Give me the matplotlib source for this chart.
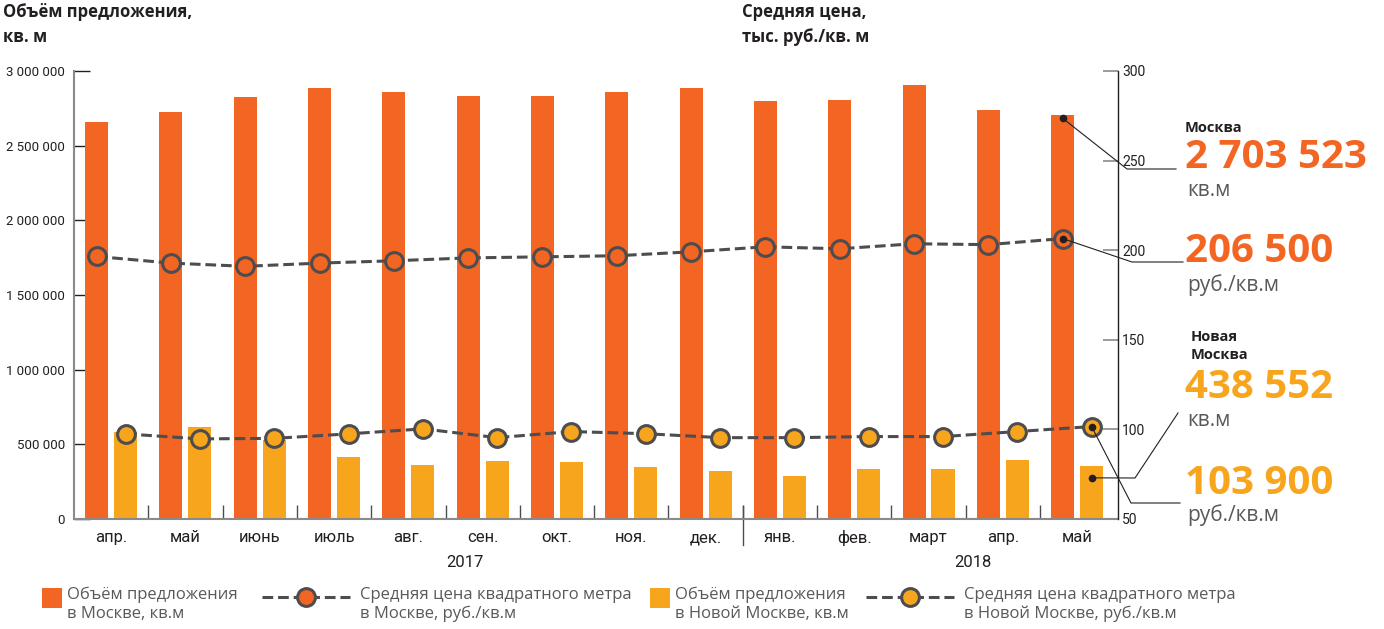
import matplotlib
matplotlib.use('Agg')
import matplotlib.pyplot as plt
from matplotlib.lines import Line2D
from matplotlib.patches import Rectangle
import numpy as np

# данные
months = ['апр.', 'май', 'июнь', 'июль', 'авг.', 'сен.', 'окт.', 'ноя.', 'дек.',
          'янв.', 'фев.', 'март', 'апр.', 'май']
years = ['2017', '2018']
moscow_volume = [2659000, 2726000, 2826000, 2886000, 2860000, 2833000, 2833000,
                 2860000, 2886000, 2800000, 2806000, 2906000, 2739000, 2703523]
new_moscow_volume = [581000, 617000, 528000, 416000, 361000, 388000, 381000,
                     347000, 321000, 287000, 334000, 334000, 394000, 356000]
moscow_price = [196.5, 192.8, 191.0, 192.8, 194.1, 195.7, 196.3,
                196.9, 199.1, 201.9, 200.8, 203.6, 203.1, 206.5]
new_moscow_price = [97.5, 94.7, 95.0, 97.5, 100.3, 95.4, 98.8,
                    97.6, 95.4, 95.4, 96.0, 96.0, 98.8, 101.6]
left_ticks = [0, 500000, 1000000, 1500000, 2000000, 2500000, 3000000]
right_ticks = [50, 100, 150, 200, 250, 300]

RED = '#f26522'
YEL = '#f7a51d'
DARK = '#4d4d4f'
TXT = '#231f20'
GRAY = '#58595b'
AXG = '#8a8a8a'
NARROW = ['Roboto', 'DejaVu Sans']

plt.rcParams['font.family'] = ['Open Sans', 'DejaVu Sans']

W, H = 1384, 629
fig = plt.figure(figsize=(W / 100, H / 100), dpi=100)


def P(x, y):
    return x / W, 1 - y / H


ax = fig.add_axes([74 / W, 1 - 519 / H, (1118 - 74) / W, (519 - 71) / H])
x = np.arange(len(months))
off = 0.195
bw = 0.31
ax.bar(x - off, moscow_volume, bw, color=RED, zorder=2)
ax.bar(x + off, new_moscow_volume, bw, color=YEL, zorder=2)
ax.set_xlim(-0.5, 13.55)
ax.set_ylim(0, 3000000)
ax.set_yticks(left_ticks)
ax.set_yticklabels([f'{v:,}'.replace(',', ' ') for v in left_ticks], family=NARROW)
ax.tick_params(axis='y', direction='in', length=11.5, width=1, color=TXT,
               pad=6.5, labelsize=9.5, labelcolor=TXT)
ax.set_xticks(x)
ax.set_xticklabels(months, family=NARROW)
ax.tick_params(axis='x', length=0, pad=8, labelsize=12, labelcolor=TXT)
ax.set_xticks(x[:-1] + 0.5, minor=True)
ax.tick_params(axis='x', which='minor', direction='in', length=10, width=1, color=DARK)
for s in ['top', 'right']:
    ax.spines[s].set_visible(False)
for s in ['left', 'bottom']:
    ax.spines[s].set_color(AXG)
    ax.spines[s].set_linewidth(1.5)

# граница между годами
ax.plot([8.5, 8.5], [-0.058, 0.03], transform=ax.get_xaxis_transform(),
        clip_on=False, color=DARK, lw=1)
ax.text(4.76, -0.096, years[0], transform=ax.get_xaxis_transform(), ha='center',
        va='center', fontsize=12, color=TXT, family=NARROW)
ax.text(11.6, -0.096, years[1], transform=ax.get_xaxis_transform(), ha='center',
        va='center', fontsize=12, color=TXT, family=NARROW)

ax2 = ax.twinx()
ax2.set_ylim(50, 300)
ax2.set_yticks(right_ticks)
ax2.set_yticklabels([str(v) for v in right_ticks], family=NARROW)
ax2.tick_params(axis='y', direction='in', length=11, width=1.2, color=AXG,
                pad=3, labelsize=10, labelcolor=TXT)
for s in ['top', 'left', 'bottom']:
    ax2.spines[s].set_visible(False)
ax2.spines['right'].set_color(TXT)
ax2.spines['right'].set_linewidth(1)

line_kw = dict(linestyle=(0, (3.5, 1.6)), color=DARK, lw=2.2, marker='o',
               ms=12.8, mec=DARK, mew=2.2)
ax2.plot(x - off, moscow_price, mfc=RED, **line_kw)
ax2.plot(x + off, new_moscow_price, mfc=YEL, **line_kw)


def to_px(axis, xv, yv, dy=0):
    px, py = axis.transData.transform((xv, yv))
    return px, H - py + dy


def leader(pts):
    xs = [p[0] / W for p in pts]
    ys = [1 - p[1] / H for p in pts]
    fig.add_artist(Line2D(xs, ys, transform=fig.transFigure, color=TXT, lw=0.8))
    fig.add_artist(Line2D([xs[0]], [ys[0]], transform=fig.transFigure,
                          marker='o', ms=4.5, color=TXT, lw=0))


last = len(months) - 1
leader([to_px(ax, last - off, moscow_volume[last], 3), (1127, 169), (1176, 169)])
leader([to_px(ax2, last - off, moscow_price[last]), (1132, 262), (1183, 262)])
leader([to_px(ax, last + off, new_moscow_volume[last], 12), (1135, 478), (1178, 413)])
leader([to_px(ax2, last + off, new_moscow_price[last]), (1131, 503), (1180, 503)])

# подписи справа
fig.text(*P(1185, 128), 'Москва', fontsize=10.5, fontweight='bold', color=TXT, va='center')
fig.text(*P(1185, 158), '2 703 523', fontsize=29, fontweight='bold', color=RED, va='center')
fig.text(*P(1187, 190), 'кв.м', fontsize=15, color=GRAY, va='center')
fig.text(*P(1185, 252), '206 500', fontsize=29, fontweight='bold', color=RED, va='center')
fig.text(*P(1187, 285), 'руб./кв.м', fontsize=15, color=GRAY, va='center')
fig.text(*P(1191, 346), 'Новая\nМосква', fontsize=10.5, fontweight='bold', color=TXT,
         va='center', linespacing=1.35)
fig.text(*P(1185, 388), '438 552', fontsize=29, fontweight='bold', color=YEL, va='center')
fig.text(*P(1187, 421), 'кв.м', fontsize=15, color=GRAY, va='center')
fig.text(*P(1185, 483), '103 900', fontsize=29, fontweight='bold', color=YEL, va='center')
fig.text(*P(1187, 515), 'руб./кв.м', fontsize=15, color=GRAY, va='center')

# заголовки осей
fig.text(*P(3, 3), 'Объём предложения,\nкв. м', fontsize=12, fontweight='bold',
         color=TXT, va='top', linespacing=1.5)
fig.text(*P(742, 3), 'Средняя цена,\nтыс. руб./кв. м', fontsize=12, fontweight='bold',
         color=TXT, va='top', linespacing=1.5)

# легенда
for (sx, col, label) in [(42, RED, 'Объём предложения\nв Москве, кв.м'),
                         (650, YEL, 'Объём предложения\nв Новой Москве, кв.м')]:
    fig.add_artist(Rectangle(P(sx, 608), 20 / W, 20 / H, transform=fig.transFigure,
                             color=col, lw=0))
    fig.text(*P(sx + 25, 587), label, fontsize=12, color=GRAY, va='top', linespacing=1.2)

for (lx, col, label) in [(262, RED, 'Средняя цена квадратного метра\nв Москве, руб./кв.м'),
                         (866, YEL, 'Средняя цена квадратного метра\nв Новой Москве, руб./кв.м')]:
    fig.add_artist(Line2D([lx / W, (lx + 88) / W], [1 - 597 / H] * 2, transform=fig.transFigure,
                          linestyle=(0, (3.5, 1.6)), color=DARK, lw=2.2))
    fig.add_artist(Line2D([(lx + 44) / W], [1 - 597 / H], transform=fig.transFigure,
                          marker='o', ms=12.8, mfc=col, mec=DARK, mew=2.2, lw=0))
    fig.text(*P(lx + 98, 587), label, fontsize=12, color=GRAY, va='top', linespacing=1.2)

fig.savefig('out.png', dpi=100)
